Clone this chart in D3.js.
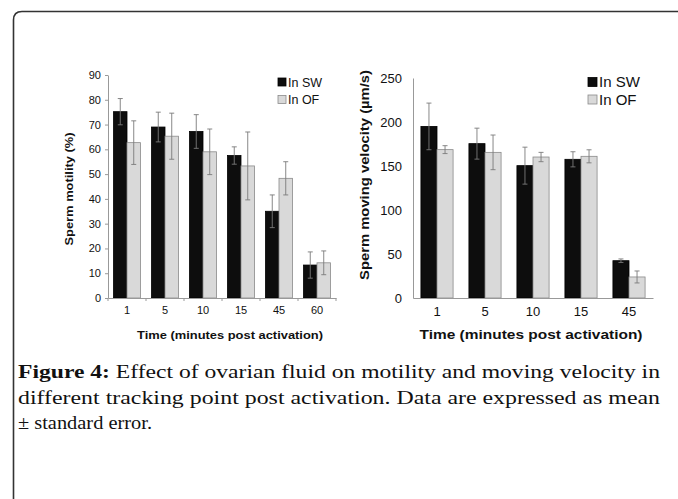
<!DOCTYPE html>
<html>
<head>
<meta charset="utf-8">
<script src="https://cdn.jsdelivr.net/npm/d3@7"></script>
<style>
  body { margin: 0; background: #fff; }
  svg { display: block; }
</style>
</head>
<body>
<svg id="fig"></svg>
<script>
var w = 678;
var h = 499;

// motility panel
var motTimes = ["1", "5", "10", "15", "45", "60"];
var motSW = [75.2, 69, 67.2, 57.5, 35, 13.3];
var motSWerr = [5.3, 6, 6.8, 3.5, 6.6, 5.3];
var motOF = [62.7, 65.3, 59, 53.3, 48.3, 14.2];
var motOFerr = [8.8, 9.3, 9.2, 13.7, 6.7, 4.8];
var motTicks = [0, 10, 20, 30, 40, 50, 60, 70, 80, 90];

// velocity panel
var velTimes = ["1", "5", "10", "15", "45"];
var velSW = [195, 175.4, 150.4, 157.6, 42.4];
var velSWerr = [26.5, 17.6, 21, 8.6, 2];
var velOF = [168.6, 165.5, 160.2, 161, 23.9];
var velOFerr = [4.5, 19.7, 5.3, 7.4, 6.8];
var velTicks = [0, 50, 100, 150, 200, 250];

var groups = ["In SW", "In OF"];
var fills = ["#0d0d0d", "#d9d9d9"];
var sans = "Liberation Sans, Arial, sans-serif";

var svg = d3.select("#fig")
  .attr("width", w)
  .attr("height", h);

// frame with a rounded corner, only top and left edges visible
svg.append("path")
  .attr("d", "M13.5," + (h + 5) + " L13.5,20 Q13.5,11.5 22,11.5 L" + (w + 5) + ",11.5")
  .attr("fill", "none")
  .attr("stroke", "#333")
  .attr("stroke-width", 1.6);

function panel(opt){
  var g = svg.append("g");

  var x0 = d3.scaleBand()
    .domain(opt.times)
    .range([opt.left, opt.right])
    .paddingInner(opt.pad)
    .paddingOuter(opt.pad / 2);

  var x1 = d3.scaleBand()
    .domain(groups)
    .range([0, x0.bandwidth()]);

  var y = d3.scaleLinear()
    .domain([0, opt.max])
    .range([opt.bottom, opt.top]);

  var rows = opt.times.map(function(t, i){
    return [
      {t: t, g: groups[0], v: opt.sw[i], e: opt.swErr[i]},
      {t: t, g: groups[1], v: opt.of[i], e: opt.ofErr[i]}
    ];
  });
  var flat = [].concat.apply([], rows);

  // y axis
  var yAxis = d3.axisLeft(y)
    .tickValues(opt.ticks)
    .tickSize(opt.yTick)
    .tickPadding(opt.yPad)
    .tickSizeOuter(0);
  var ya = g.append("g")
    .attr("transform", "translate(" + opt.left + ",0)")
    .call(yAxis);
  ya.select(".domain").attr("stroke", "#999");
  ya.selectAll(".tick line").attr("stroke", "#999");
  ya.selectAll("text")
    .attr("font-family", sans)
    .attr("font-size", opt.tickFont)
    .attr("fill", "#111");

  // bars
  g.selectAll("rect.bar")
    .data(flat)
    .enter()
    .append("rect")
    .attr("class", "bar")
    .attr("x", function(d){ return x0(d.t) + x1(d.g); })
    .attr("width", x1.bandwidth())
    .attr("y", function(d){ return y(d.v); })
    .attr("height", function(d){ return y(0) - y(d.v); })
    .attr("fill", function(d){ return d.g == groups[0] ? fills[0] : fills[1]; })
    .attr("stroke", function(d){ return d.g == groups[0] ? "#000" : "#8a8a8a"; })
    .attr("stroke-width", 0.8);

  // error bars
  var eb = g.selectAll("g.err")
    .data(flat)
    .enter()
    .append("g")
    .attr("class", "err")
    .attr("stroke", "#7a7a7a")
    .attr("stroke-width", 0.9);
  eb.append("line")
    .attr("x1", function(d){ return x0(d.t) + x1(d.g) + x1.bandwidth() / 2; })
    .attr("x2", function(d){ return x0(d.t) + x1(d.g) + x1.bandwidth() / 2; })
    .attr("y1", function(d){ return y(d.v + d.e); })
    .attr("y2", function(d){ return y(d.v - d.e); });
  eb.selectAll("line.cap")
    .data(function(d){ return [d.v + d.e, d.v - d.e].map(function(v){ return {d: d, v: v}; }); })
    .enter()
    .append("line")
    .attr("class", "cap")
    .attr("x1", function(c){ return x0(c.d.t) + x1(c.d.g) + x1.bandwidth() / 2 - 2.5; })
    .attr("x2", function(c){ return x0(c.d.t) + x1(c.d.g) + x1.bandwidth() / 2 + 2.5; })
    .attr("y1", function(c){ return y(c.v); })
    .attr("y2", function(c){ return y(c.v); });

  // x axis
  var xAxis = d3.axisBottom(x0)
    .tickSize(0)
    .tickPadding(opt.xPad)
    .tickSizeOuter(0);
  var xa = g.append("g")
    .attr("transform", "translate(0," + opt.bottom + ")")
    .call(xAxis);
  xa.select(".domain").attr("stroke", "#999");
  xa.selectAll("text")
    .attr("font-family", sans)
    .attr("font-size", opt.tickFont)
    .attr("fill", "#111");

  if(opt.xTicks){
    var step = x0.step();
    var edges = opt.times.map(function(t){ return x0(t) - step * opt.pad / 2; });
    edges.push(opt.right);
    g.selectAll("line.xt")
      .data(edges)
      .enter()
      .append("line")
      .attr("class", "xt")
      .attr("x1", function(d){ return d; })
      .attr("x2", function(d){ return d; })
      .attr("y1", opt.bottom)
      .attr("y2", opt.bottom + 3)
      .attr("stroke", "#999");
  }

  // axis titles (source figure is stretched sideways, so fit to measured length)
  g.append("text")
    .attr("transform", "translate(" + opt.yTitleX + "," + opt.yTitleY + ") rotate(-90)")
    .attr("text-anchor", "middle")
    .attr("font-family", sans)
    .attr("font-weight", "bold")
    .attr("font-size", opt.titleFont)
    .attr("textLength", opt.yTitleLen)
    .attr("lengthAdjust", "spacingAndGlyphs")
    .attr("fill", "#111")
    .text(opt.yTitle);

  g.append("text")
    .attr("x", opt.xTitleX)
    .attr("y", opt.xTitleY)
    .attr("text-anchor", "middle")
    .attr("font-family", sans)
    .attr("font-weight", "bold")
    .attr("font-size", opt.xTitleFont)
    .attr("textLength", opt.xTitleLen)
    .attr("lengthAdjust", "spacingAndGlyphs")
    .attr("fill", "#111")
    .text("Time (minutes post activation)");

  // legend
  var lg = g.selectAll("g.leg")
    .data(groups)
    .enter()
    .append("g")
    .attr("class", "leg")
    .attr("transform", function(d, i){ return "translate(" + opt.legX + "," + (opt.legY + i * 17.5) + ")"; });
  lg.append("rect")
    .attr("x", 0)
    .attr("y", -opt.legBox / 2)
    .attr("width", opt.legBox)
    .attr("height", opt.legBox)
    .attr("fill", function(d, i){ return fills[i]; })
    .attr("stroke", function(d, i){ return i == 0 ? "#000" : "#8a8a8a"; })
    .attr("stroke-width", 0.8);
  lg.append("text")
    .attr("x", opt.legBox + 2)
    .attr("y", 0)
    .attr("dy", "0.36em")
    .attr("font-family", sans)
    .attr("font-size", opt.legFont)
    .attr("fill", "#111")
    .text(function(d){ return d; });
}

panel({
  times: motTimes, sw: motSW, swErr: motSWerr, of: motOF, ofErr: motOFerr,
  ticks: motTicks, max: 90,
  left: 108, right: 336, top: 75, bottom: 298, pad: 0.29,
  yTick: 3, yPad: 4, xPad: 8, xTicks: true,
  tickFont: "11px", titleFont: "11px", xTitleFont: "11px",
  yTitle: "Sperm motility (%)", yTitleX: 73, yTitleY: 189, yTitleLen: 113,
  xTitleX: 230, xTitleY: 339, xTitleLen: 186,
  legX: 278, legY: 82, legBox: 8, legFont: "12.5px"
});

panel({
  times: velTimes, sw: velSW, swErr: velSWerr, of: velOF, ofErr: velOFerr,
  ticks: velTicks, max: 250,
  left: 413, right: 653, top: 78, bottom: 298, pad: 0.33,
  yTick: 0, yPad: 11, xPad: 9, xTicks: false,
  tickFont: "13px", titleFont: "13.5px", xTitleFont: "13px",
  yTitle: "Sperm moving velocity (\u00b5m/s)", yTitleX: 369, yTitleY: 175, yTitleLen: 210,
  xTitleX: 531, xTitleY: 339, xTitleLen: 223,
  legX: 588, legY: 82, legBox: 9, legFont: "15px"
});

// caption
var capLines = [
  {bold: "Figure 4:", rest: " Effect of ovarian fluid on motility and moving velocity in", len: 642},
  {bold: "", rest: "different tracking point post activation. Data are expressed as mean", len: 642},
  {bold: "", rest: "\u00b1 standard error.", len: 134}
];
var cap = svg.append("g")
  .attr("font-family", "Liberation Serif, Times New Roman, serif")
  .attr("font-size", "19px")
  .attr("fill", "#111");
cap.selectAll("text")
  .data(capLines)
  .enter()
  .append("text")
  .attr("x", 18)
  .attr("y", function(d, i){ return 378 + i * 25.5; })
  .attr("textLength", function(d){ return d.len; })
  .attr("lengthAdjust", "spacingAndGlyphs")
  .each(function(d){
    var t = d3.select(this);
    if(d.bold){
      t.append("tspan").attr("font-weight", "bold").text(d.bold);
    }
    t.append("tspan").text(d.rest);
  });
</script>
</body>
</html>
